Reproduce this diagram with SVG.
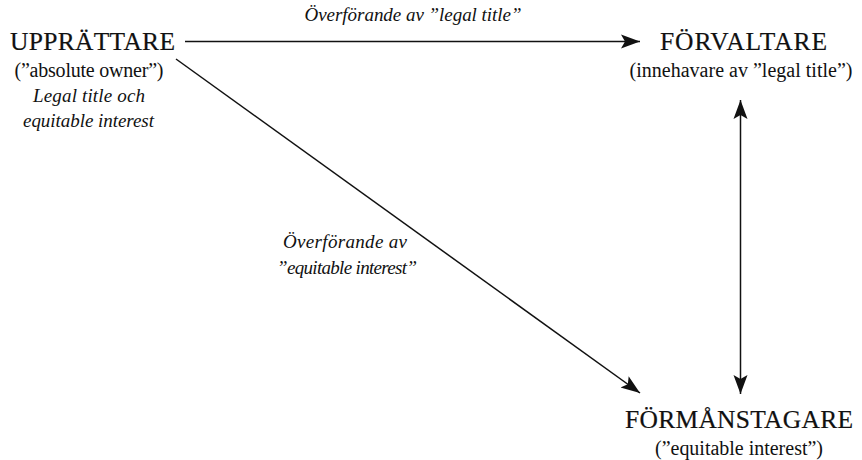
<svg xmlns="http://www.w3.org/2000/svg" width="862" height="460" viewBox="0 0 862 460">
<style>
text{fill:#111;text-anchor:middle}
.t{font-size:25.5px;stroke:#111;stroke-width:0.2}
.s{font-size:20px}
.i{font-size:19px;font-style:italic}
.c{stroke:#111;stroke-width:1.5;fill:none}
</style>
<defs>
<marker id="ah" markerUnits="userSpaceOnUse" markerWidth="22" markerHeight="16" refX="19" refY="8" orient="auto-start-reverse" viewBox="0 0 22 16">
<path d="M0,1 L19,8 L0,15 L4,8 z" fill="#111"/>
</marker>
</defs>
<rect width="862" height="460" fill="#fff"/>
<g id="connectors">
<line class="c" x1="185" y1="41.5" x2="640" y2="41.5" marker-end="url(#ah)"/>
<line class="c" x1="176" y1="59" x2="640" y2="393" marker-end="url(#ah)"/>
<line class="c" x1="740.5" y1="100" x2="740.5" y2="394" marker-start="url(#ah)" marker-end="url(#ah)"/>
<text class="i" font-family="Liberation Serif" x="413" y="21" textLength="217">Överförande av ”legal title”</text>
<text class="i" font-family="Liberation Serif" x="345" y="248" textLength="124">Överförande av</text>
<text class="i" font-family="Liberation Serif" x="347" y="274" textLength="140">”equitable interest”</text>
</g>
<g id="upprattare">
<text class="t" font-family="Liberation Serif" x="92.5" y="50" textLength="165">UPPRÄTTARE</text>
<text class="s" font-family="Liberation Serif" x="89" y="77" textLength="149">(”absolute owner”)</text>
<text class="i" font-family="Liberation Serif" x="89" y="102" textLength="112">Legal title och</text>
<text class="i" font-family="Liberation Serif" x="88.5" y="127" textLength="131">equitable interest</text>
</g>
<g id="forvaltare">
<text class="t" font-family="Liberation Serif" x="743.5" y="50" textLength="167">FÖRVALTARE</text>
<text class="s" font-family="Liberation Serif" x="741" y="77" textLength="223">(innehavare av ”legal title”)</text>
</g>
<g id="formanstagare">
<text class="t" font-family="Liberation Serif" x="739" y="428" textLength="228">FÖRMÅNSTAGARE</text>
<text class="s" font-family="Liberation Serif" x="739" y="455" textLength="168">(”equitable interest”)</text>
</g>
</svg>
